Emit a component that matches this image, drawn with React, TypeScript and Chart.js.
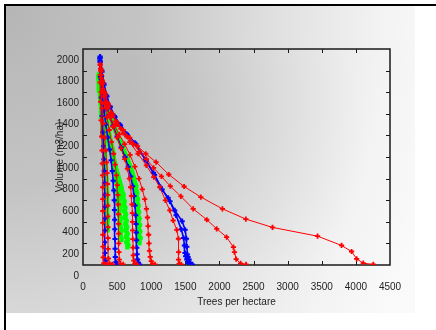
import React, { useEffect, useRef } from "react";
import { Chart, registerables } from "chart.js";
Chart.register(...registerables);

const xTickValues = [0, 500, 1000, 1500, 2000, 2500, 3000, 3500, 4000, 4500];
const yLabelValues = [0, 200, 400, 600, 800, 1000, 1200, 1400, 1600, 1800, 2000];
const yTickMarkValues = [300, 500, 700, 900, 1100, 1300, 1500, 1700, 1900];

// Red series
const r1Trees = [4255, 4108, 4011, 3937, 3790, 3438, 2778, 2387, 2044, 1727, 1482, 1257, 1071, 920, 800, 685, 590, 500, 430, 370, 320, 285, 262];
const r1Vol = [105, 117, 157, 225, 281, 367, 448, 525, 620, 729, 827, 938, 1053, 1130, 1200, 1280, 1350, 1420, 1500, 1590, 1690, 1800, 1910];
const r2Trees = [2390, 2310, 2245, 2220, 2205, 2105, 1960, 1815, 1615, 1435, 1280, 1150, 1035, 930, 830, 735, 640, 555, 480, 415, 360, 315, 282, 260];
const r2Vol = [105, 115, 155, 220, 265, 358, 435, 519, 620, 735, 830, 920, 1000, 1080, 1150, 1220, 1290, 1360, 1430, 1510, 1600, 1700, 1810, 1920];
const r3Trees = [1440, 1410, 1400, 1402, 1399, 1374, 1321, 1272, 1208, 1125, 1037, 929, 807, 685, 590, 505, 435, 375, 325, 290, 265];
const r3Vol = [105, 112, 150, 219, 343, 426, 512, 605, 698, 821, 914, 1022, 1130, 1238, 1320, 1400, 1480, 1570, 1670, 1780, 1890];
const r4Trees = [1055, 1020, 1000, 985, 975, 968, 962, 955, 945, 930, 905, 870, 820, 760, 690, 610, 530, 460, 400, 350, 310, 280, 262];
const r4Vol = [105, 110, 135, 175, 230, 300, 380, 460, 540, 620, 710, 800, 900, 1010, 1120, 1220, 1310, 1390, 1470, 1560, 1660, 1780, 1900];
const r5Trees = [790, 760, 745, 737, 733, 730, 728, 726, 723, 718, 710, 698, 680, 652, 612, 560, 500, 440, 380, 330, 292, 266, 252];
const r5Vol = [105, 112, 140, 190, 260, 340, 420, 500, 580, 660, 740, 820, 900, 990, 1080, 1180, 1280, 1380, 1480, 1590, 1710, 1830, 1950];
const r6Trees = [590, 548, 532, 527, 524, 522, 520, 518, 515, 510, 502, 490, 472, 448, 418, 385, 350, 318, 290, 268, 254];
const r6Vol = [105, 112, 150, 220, 300, 390, 480, 570, 660, 750, 840, 930, 1030, 1130, 1240, 1350, 1470, 1600, 1730, 1860, 1960];
const r8Trees = [430, 388, 372, 368, 366, 365, 364, 363, 361, 358, 353, 345, 333, 318, 300, 282, 266, 254];
const r8Vol = [105, 114, 160, 250, 350, 450, 550, 650, 750, 850, 950, 1050, 1160, 1280, 1410, 1550, 1700, 1860];
const r9Trees = [345, 306, 296, 293, 292, 291, 290, 289, 288, 286, 283, 279, 273, 266, 258, 250];
const r9Vol = [105, 116, 170, 270, 380, 490, 600, 710, 820, 930, 1040, 1160, 1290, 1440, 1610, 1790];

// Blue series
const b1Trees = [1604, 1575, 1555, 1540, 1531, 1522, 1516, 1497, 1453, 1345, 1247, 1135, 1032, 915, 758, 636, 540, 460, 395, 345, 305, 275, 250];
const b1Vol = [105, 118, 150, 175, 198, 270, 343, 426, 506, 605, 722, 821, 954, 1077, 1232, 1315, 1400, 1480, 1570, 1670, 1780, 1900, 2030];
const b1bTrees = [1565, 1540, 1520, 1505, 1495, 1487, 1475, 1440, 1365, 1275, 1160, 1050, 930, 775, 650, 550, 468, 400, 350, 308, 278, 252];
const b1bVol = [105, 118, 150, 180, 210, 280, 350, 430, 560, 690, 800, 935, 1060, 1220, 1305, 1390, 1470, 1560, 1660, 1770, 1890, 2020];
const b2Trees = [830, 812, 800, 792, 788, 785, 782, 778, 772, 762, 748, 728, 700, 662, 615, 560, 500, 440, 385, 338, 300, 272, 252];
const b2Vol = [105, 120, 150, 200, 260, 330, 400, 480, 560, 650, 740, 830, 920, 1010, 1100, 1190, 1290, 1390, 1490, 1600, 1720, 1850, 1980];
const b3Trees = [500, 482, 474, 471, 469, 467, 465, 462, 458, 452, 443, 430, 412, 390, 363, 335, 308, 285, 266, 250];
const b3Vol = [105, 125, 175, 250, 340, 430, 520, 610, 700, 790, 880, 970, 1070, 1170, 1280, 1400, 1530, 1670, 1820, 1990];
const b4Trees = [342, 328, 323, 321, 320, 319, 318, 317, 315, 312, 307, 300, 291, 280, 268, 256, 246];
const b4Vol = [105, 140, 210, 310, 420, 530, 640, 750, 860, 970, 1080, 1200, 1330, 1480, 1650, 1840, 2010];

// Green series
const g1Trees = [648, 662, 640, 656, 636, 650, 628, 644, 622, 636, 614, 628, 606, 618, 596, 606, 584, 590, 566, 556, 536, 515, 492, 465, 438, 410, 382, 355, 328, 302, 280, 262, 245, 232];
const g1Vol = [262, 285, 310, 335, 360, 390, 420, 450, 480, 510, 540, 570, 600, 630, 660, 690, 720, 750, 790, 830, 870, 920, 970, 1030, 1090, 1160, 1230, 1310, 1400, 1490, 1580, 1680, 1770, 1850];
const g2Trees = [830, 818, 840, 812, 835, 808, 830, 805, 825, 800, 818, 795, 810, 790, 802, 782, 792, 772, 778, 755, 740, 718, 690, 655, 615, 572, 526, 480, 436, 395, 358, 325, 297, 272, 252, 236];
const g2Vol = [300, 325, 350, 380, 410, 440, 470, 500, 530, 560, 590, 620, 650, 680, 710, 740, 770, 800, 830, 870, 910, 960, 1010, 1070, 1130, 1200, 1270, 1340, 1410, 1480, 1550, 1620, 1690, 1760, 1820, 1870];
const g3Trees = [362, 350, 358, 346, 352, 340, 346, 334, 338, 326, 328, 316, 318, 304, 306, 292, 290, 276, 270, 256, 248, 236, 228];
const g3Vol = [420, 480, 540, 600, 660, 720, 780, 840, 900, 960, 1020, 1080, 1140, 1200, 1260, 1330, 1400, 1480, 1560, 1640, 1720, 1800, 1860];
const g4Trees = [565, 548, 560, 538, 548, 526, 536, 515, 522, 502, 508, 488, 490, 470, 465, 445, 430, 405, 380, 352, 325, 300, 278, 258, 242];
const g4Vol = [330, 380, 430, 480, 530, 580, 630, 680, 730, 780, 830, 880, 930, 980, 1040, 1100, 1170, 1240, 1320, 1400, 1480, 1570, 1660, 1750, 1840];

const FONT = "'Liberation Sans', Arial, sans-serif";

function pts(t: number[], v: number[]) {
  return t.map((x, i) => ({ x, y: v[i] }));
}

function redSet(t: number[], v: number[]) {
  return {
    data: pts(t, v),
    showLine: true,
    borderColor: "#ff0000",
    backgroundColor: "#ff0000",
    borderWidth: 1,
    pointStyle: "cross" as const,
    pointRadius: 2.6,
    pointBorderWidth: 1.8,
    pointBorderColor: "#ff0000",
    tension: 0,
    order: 1,
  };
}
function blueSet(t: number[], v: number[]) {
  return {
    data: pts(t, v),
    showLine: true,
    borderColor: "#0000ff",
    backgroundColor: "#0000ff",
    borderWidth: 1.6,
    pointStyle: "cross" as const,
    pointRadius: 2.6,
    pointBorderWidth: 2,
    pointBorderColor: "#0000ff",
    tension: 0,
    order: 2,
  };
}
function greenSet(t: number[], v: number[]) {
  return {
    data: pts(t, v),
    showLine: true,
    borderColor: "#00ff00",
    backgroundColor: "#00ff00",
    borderWidth: 5,
    pointStyle: "rect" as const,
    pointRadius: 2.8,
    pointBorderWidth: 0,
    tension: 0,
    order: 3,
  };
}

const bgPlugin = {
  id: "bgPanel",
  beforeDraw(chart: any) {
    const { ctx, width, height } = chart;
    ctx.save();
    ctx.fillStyle = "#ffffff";
    ctx.fillRect(0, 0, width, height);
    ctx.save();
    ctx.beginPath();
    ctx.rect(6, 6, 409, 307);
    ctx.clip();
    ctx.scale(1, 1.35);
    const g = ctx.createRadialGradient(10, 8, 0, 10, 8, 440);
    g.addColorStop(0, "#b6b6b6");
    g.addColorStop(0.3, "#c4c4c4");
    g.addColorStop(0.6, "#e0e0e0");
    g.addColorStop(0.85, "#f3f3f3");
    g.addColorStop(1, "#fafafa");
    ctx.fillStyle = g;
    ctx.fillRect(0, 0, 436, 330);
    ctx.restore();
    const ca = chart.chartArea;
    ctx.save();
    ctx.beginPath();
    ctx.rect(ca.left, ca.top, ca.right - ca.left, ca.bottom - ca.top);
    ctx.clip();
    const g2 = ctx.createRadialGradient(185, 135, 0, 185, 135, 180);
    g2.addColorStop(0, "rgba(0,0,0,0.07)");
    g2.addColorStop(1, "rgba(0,0,0,0)");
    ctx.fillStyle = g2;
    ctx.fillRect(ca.left, ca.top, ca.right - ca.left, ca.bottom - ca.top);
    ctx.restore();
    ctx.fillStyle = "#000000";
    ctx.fillRect(4, 4, 432, 2);
    ctx.fillRect(4, 4, 2, 326);
    ctx.restore();
  },
};

const framePlugin = {
  id: "frameTicks",
  beforeDatasetsDraw(chart: any) {
    const { ctx } = chart;
    const ca = chart.chartArea;
    const xs = chart.scales.x;
    const ys = chart.scales.y;
    ctx.save();
    ctx.strokeStyle = "#1a1a1a";
    ctx.lineWidth = 1.5;
    ctx.strokeRect(ca.left, ca.top, ca.right - ca.left, ca.bottom - ca.top);
    ctx.lineWidth = 1;
    ctx.beginPath();
    xTickValues.forEach((v) => {
      const px = Math.round(xs.getPixelForValue(v)) + 0.5;
      if (px <= ca.left + 1 || px >= ca.right - 1) return;
      ctx.moveTo(px, ca.bottom);
      ctx.lineTo(px, ca.bottom - 4);
      ctx.moveTo(px, ca.top);
      ctx.lineTo(px, ca.top + 4);
    });
    yTickMarkValues.forEach((v) => {
      const py = Math.round(ys.getPixelForValue(v)) + 0.5;
      ctx.moveTo(ca.left, py);
      ctx.lineTo(ca.left + 4, py);
      ctx.moveTo(ca.right, py);
      ctx.lineTo(ca.right - 4, py);
    });
    ctx.stroke();
    ctx.restore();
  },
};

export default function App() {
  const ref = useRef<HTMLCanvasElement | null>(null);
  useEffect(() => {
    if (!ref.current) return;
    const datasets = [
      redSet(r1Trees, r1Vol),
      redSet(r2Trees, r2Vol),
      redSet(r3Trees, r3Vol),
      redSet(r4Trees, r4Vol),
      redSet(r5Trees, r5Vol),
      redSet(r6Trees, r6Vol),
      redSet(r8Trees, r8Vol),
      redSet(r9Trees, r9Vol),
      blueSet(b1Trees, b1Vol),
      blueSet(b1bTrees, b1bVol),
      blueSet(b2Trees, b2Vol),
      blueSet(b3Trees, b3Vol),
      blueSet(b4Trees, b4Vol),
      greenSet(g1Trees, g1Vol),
      greenSet(g2Trees, g2Vol),
      greenSet(g3Trees, g3Vol),
      greenSet(g4Trees, g4Vol),
    ];
    const chart = new Chart(ref.current, {
      type: "scatter",
      data: { datasets: datasets as any },
      options: {
        animation: false,
        responsive: false,
        devicePixelRatio: 1,
        layout: { padding: { left: 50, right: 46, top: 49, bottom: 22 } },
        plugins: { legend: { display: false }, tooltip: { enabled: false } },
        scales: {
          x: {
            type: "linear",
            min: 0,
            max: 4500,
            grid: { display: false, drawTicks: false },
            border: { display: false },
            afterFit: (s: any) => {
              s.height = 43;
            },
            afterBuildTicks: (s: any) => {
              s.ticks = xTickValues.map((v) => ({ value: v }));
            },
            ticks: {
              autoSkip: false,
              maxRotation: 0,
              padding: 16,
              color: "#222",
              font: { family: FONT, size: 10 },
              callback: (v: any) => String(v),
            },
            title: {
              display: true,
              text: "Trees per hectare",
              color: "#222",
              font: { family: FONT, size: 10 },
              padding: { top: 0, bottom: 0 },
            },
          },
          y: {
            type: "linear",
            min: 100,
            max: 2100,
            grid: { display: false, drawTicks: false },
            border: { display: false },
            afterFit: (s: any) => {
              s.width = 33;
            },
            afterBuildTicks: (s: any) => {
              s.ticks = yLabelValues.map((v) => ({ value: v }));
            },
            ticks: {
              autoSkip: false,
              padding: 4,
              color: "#222",
              font: { family: FONT, size: 10 },
              callback: (v: any) => String(v),
            },
            title: {
              display: true,
              text: "Volume (m3/ha)",
              color: "#222",
              font: { family: FONT, size: 10 },
              padding: { top: 4, bottom: 0 },
            },
          },
        },
      },
      plugins: [bgPlugin, framePlugin],
    });
    return () => chart.destroy();
  }, []);
  return (
    <div style={{ position: "fixed", left: 0, top: 0, width: 436, height: 330 }}>
      <canvas ref={ref} width={436} height={330} style={{ display: "block", width: 436, height: 330 }} />
    </div>
  );
}
